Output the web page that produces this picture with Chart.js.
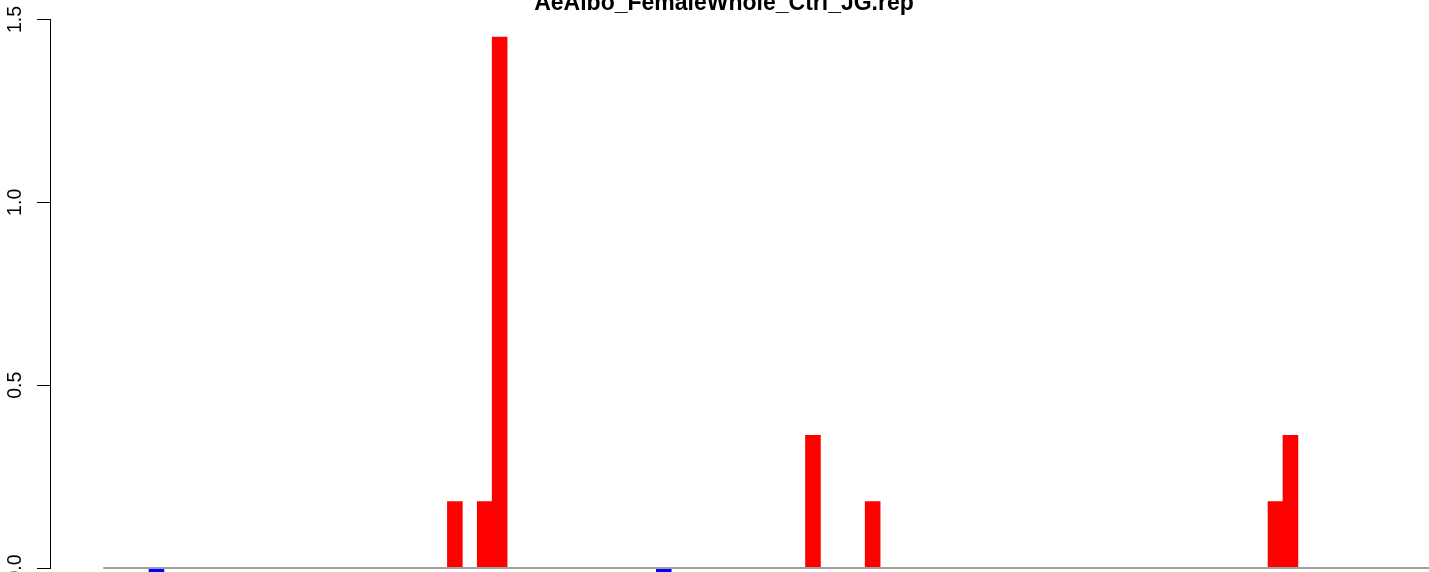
<!DOCTYPE html>
<html>
<head>
<meta charset="utf-8">
<title>AeAlbo_FemaleWhole_Ctrl_JG.rep</title>
<script src="https://cdn.jsdelivr.net/npm/chart.js@4/dist/chart.umd.min.js"></script>
<style>
  html, body { margin: 0; padding: 0; background: #ffffff; overflow: hidden; width: 1429px; height: 572px; }
  #wrap { position: relative; width: 1429px; height: 572px; overflow: hidden; }
  canvas { display: block; }
</style>
</head>
<body>
<div id="wrap"><canvas id="chart" width="1448" height="572"></canvas></div>
<script>
// ---- data ----
const chartTitle = 'AeAlbo_FemaleWhole_Ctrl_JG.rep';

// one value per bin (bins 0..88), left to right
const values = [
  0, 0, 0, -0.1815, 0, 0, 0, 0, 0, 0,            // 0-9
  0, 0, 0, 0, 0, 0, 0, 0, 0, 0,                  // 10-19
  0, 0, 0, 0.1815, 0, 0.1815, 1.452, 0, 0, 0,    // 20-29
  0, 0, 0, 0, 0, 0, 0, -0.1815, 0, 0,            // 30-39
  0, 0, 0, 0, 0, 0, 0, 0.363, 0, 0,              // 40-49
  0, 0.1815, 0, 0, 0, 0, 0, 0, 0, 0,             // 50-59
  0, 0, 0, 0, 0, 0, 0, 0, 0, 0,                  // 60-69
  0, 0, 0, 0, 0, 0, 0, 0, 0.1815, 0.363,         // 70-79
  0, 0, 0, 0, 0, 0, 0, 0, 0                      // 80-88
];

const yTickValues = [0, 0.5, 1, 1.5];
const yTickLabels = ['0.0', '0.5', '1.0', '1.5'];

const positiveColor = '#FF0000';
const negativeColor = '#0000FF';

// ---- chart ----
Chart.defaults.font.family = '"Liberation Sans", Arial, Helvetica, sans-serif';
Chart.defaults.color = '#000000';

const points = values.map((v, i) => ({ x: i + 0.5, y: v }));
const colors = values.map(v => (v < 0 ? negativeColor : positiveColor));

const baselinePlugin = {
  id: 'baseline',
  afterDatasetsDraw(chart) {
    const xs = chart.scales.x, ys = chart.scales.y;
    const ctx = chart.ctx;
    const y0 = ys.getPixelForValue(0);
    const xStart = xs.getPixelForValue(0) - 1;
    ctx.save();
    ctx.strokeStyle = '#A0A0A0';
    ctx.lineWidth = 2;
    ctx.beginPath();
    ctx.moveTo(xStart, y0);
    ctx.lineTo(chart.width, y0);
    ctx.stroke();
    ctx.restore();
  }
};

new Chart(document.getElementById('chart'), {
  type: 'bar',
  data: {
    datasets: [{
      data: points,
      backgroundColor: colors,
      borderWidth: 0,
      barPercentage: 1,
      categoryPercentage: 1,
      clip: false
    }]
  },
  options: {
    responsive: false,
    animation: false,
    devicePixelRatio: 1,
    layout: { padding: { left: 0, right: 0, top: 0, bottom: 4 } },
    plugins: {
      legend: { display: false },
      tooltip: { enabled: false },
      title: {
        display: true,
        text: chartTitle,
        color: '#000000',
        fullSize: true,
        font: { size: 23, weight: 'bold', lineHeight: 0.8478 },
        padding: { top: -5.7, bottom: 5.7 }
      }
    },
    scales: {
      x: {
        type: 'linear',
        display: false,
        min: -3.635,
        max: 90.06,
        offset: false,
        grid: { display: false }
      },
      y: {
        type: 'linear',
        min: 0,
        max: 1.5,
        afterBuildTicks(scale) {
          scale.ticks = yTickValues.map(v => ({ value: v }));
        },
        afterFit(scale) {
          scale.width = 50;
          scale.paddingTop = 0;
          scale.paddingBottom = 0;
        },
        ticks: {
          font: { size: 19.5 },
          color: '#000000',
          minRotation: 90,
          maxRotation: 90,
          crossAlign: 'center',
          padding: 8,
          callback(value, index) { return yTickLabels[index]; }
        },
        grid: {
          drawOnChartArea: false,
          drawTicks: true,
          tickLength: 13,
          color: '#000000',
          lineWidth: 1
        },
        border: { display: true, color: '#000000', width: 1 }
      }
    }
  },
  plugins: [baselinePlugin]
});
</script>
</body>
</html>
